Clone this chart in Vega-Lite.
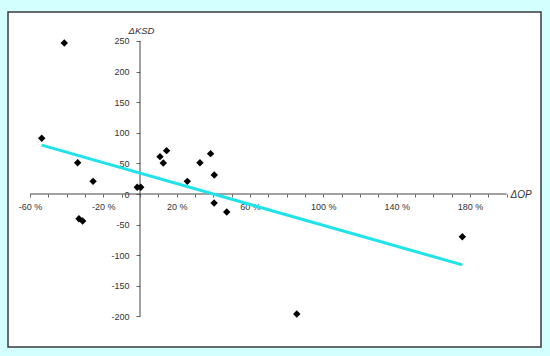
{
  "$schema": "https://vega.github.io/schema/vega-lite/v6.json",
  "width": 533,
  "height": 335,
  "autosize": {"type": "none"},
  "padding": {"left": 8, "top": 12, "right": 9, "bottom": 9},
  "background": "#D4FFFF",
  "config": {
    "view": {"stroke": "#3a3a3a", "strokeWidth": 1.5, "fill": "white"},
    "axis": {"labelFont": "Liberation Sans", "labelFontSize": 9, "labelColor": "#333", "labelOverlap": false, "labelBound": false, "titleFont": "Liberation Sans", "titleFontSize": 10, "titleFontWeight": "normal", "titleColor": "#333", "grid": false, "domain": false, "tickColor": "#666", "tickSize": 3},
    "axisQuantitative": {"labelOverlap": false},
    "axisY": {"labelOverlap": false},
    "axisX": {"labelOverlap": false}
  },
  "datasets": {
    "pts": [
      {"dOP": -53.6, "dKSD": 91},
      {"dOP": -41.3, "dKSD": 246.7},
      {"dOP": -34.0, "dKSD": 51},
      {"dOP": -25.6, "dKSD": 20.7},
      {"dOP": -33.3, "dKSD": -40.4},
      {"dOP": -31.3, "dKSD": -44},
      {"dOP": -1.5, "dKSD": 11},
      {"dOP": 0.4, "dKSD": 11},
      {"dOP": 10.9, "dKSD": 61},
      {"dOP": 12.7, "dKSD": 50.6},
      {"dOP": 14.5, "dKSD": 70.8},
      {"dOP": 25.8, "dKSD": 20.7},
      {"dOP": 32.7, "dKSD": 51},
      {"dOP": 38.5, "dKSD": 65.9},
      {"dOP": 40.5, "dKSD": 31},
      {"dOP": 40.4, "dKSD": -14.7},
      {"dOP": 47.3, "dKSD": -29.4},
      {"dOP": 85.5, "dKSD": -196},
      {"dOP": 175.8, "dKSD": -69.7}
    ]
  },
  "encoding": {
    "x": {"field": "dOP", "type": "quantitative", "scale": {"domain": [-72, 218.7], "nice": false, "zero": false},
      "axis": {"orient": "bottom", "offset": -153, "values": [-60,-50,-40,-30,-20,-10,0,10,20,30,40,50,60,70,80,90,100,110,120,130,140,150,160,170,180,190,200],
        "labelExpr": "indexof([-60,-20,20,60,100,140,180], datum.value) >= 0 ? datum.value + ' %' : ''",
        "labelPadding": 5, "labelFlush": false, "labelOverlap": false,
        "title": "ΔOP", "titleFontStyle": "italic", "titleAlign": "left", "titleBaseline": "middle", "titleAnchor": null, "titleX": 502, "titleY": 0, "titleAngle": 0}},
    "y": {"field": "dKSD", "type": "quantitative", "scale": {"domain": [-249.9, 297.3], "nice": false, "zero": false},
      "axis": {"orient": "left", "offset": -132, "values": [-200,-150,-100,-50,0,50,100,150,200,250],
        "labelExpr": "datum.value + ''", "tickSize": 4, "labelPadding": 7, "labelFlush": false, "labelOverlap": false,
        "title": "ΔKSD", "titleFontStyle": "italic", "titleFontSize": 9.5, "titleAngle": 0, "titleAlign": "center", "titleBaseline": "alphabetic", "titleAnchor": null, "titleX": 1, "titleY": 21}}
  },
  "layer": [
    {
      "data": {"values": [{"dOP": -60, "dOP2": 200, "dKSD": 0}]},
      "mark": {"type": "rule", "color": "#444", "strokeWidth": 1},
      "encoding": {"x2": {"field": "dOP2"}}
    },
    {
      "data": {"values": [{"dOP": 0, "dKSD": -200, "dKSD2": 250}]},
      "mark": {"type": "rule", "color": "#444", "strokeWidth": 1},
      "encoding": {"y2": {"field": "dKSD2"}}
    },
    {
      "data": {"name": "pts"},
      "transform": [{"regression": "dKSD", "on": "dOP"}],
      "mark": {"type": "line", "color": "#1FE3EA", "strokeWidth": 3},
      "encoding": {}
    },
    {
      "data": {"name": "pts"},
      "mark": {"type": "point", "shape": "diamond", "filled": true, "color": "black", "opacity": 1, "size": 55},
      "encoding": {}
    }
  ]
}
